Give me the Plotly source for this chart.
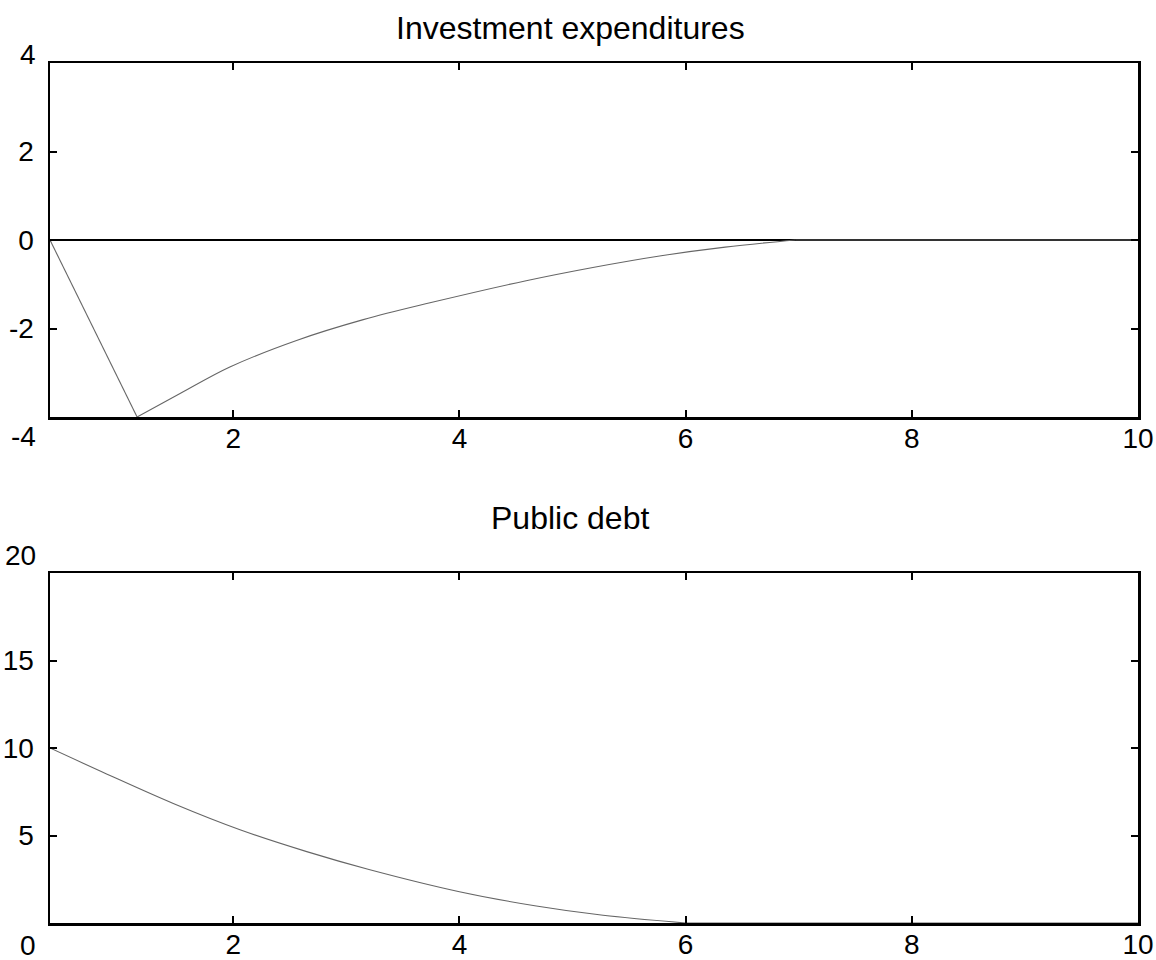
import plotly.graph_objects as go
from plotly.subplots import make_subplots

# Investment expenditures (top panel)
inv_x = [0.38, 1.15, 1.53, 1.97, 2.56, 3.15, 3.74, 4.59, 5.18, 5.77, 6.35, 6.97, 10.0]
inv_y = [0.0, -4.0, -3.47, -2.87, -2.27, -1.80, -1.42, -0.92, -0.62, -0.36, -0.16, 0.0, 0.0]

# Public debt (bottom panel)
debt_x = [0.38, 0.88, 1.47, 2.06, 2.65, 3.2, 4.0, 4.68, 5.27, 6.0, 10.0]
debt_y = [10.0, 8.52, 6.83, 5.33, 4.08, 3.06, 1.79, 0.97, 0.44, 0.0, 0.0]

titles = ["Investment expenditures", "Public debt"]
x_ticks = [2, 4, 6, 8, 10]
inv_yticks = [-2, 0, 2]
inv_yticktext = ["-2", "0", "2"]
debt_yticks = [5, 10, 15]

FONT = "Liberation Sans, Arial, Helvetica, sans-serif"
W, H = 1156, 960
L, R, T, B = 50, 18, 63, 37
ph = H - T - B

LINE = dict(color="#666666", width=1.1)

fig = make_subplots(rows=2, cols=1)
# top: straight drop to the minimum, smooth recovery, then flat at zero
i_min = inv_y.index(min(inv_y))
i_end = inv_x.index(6.97)
fig.add_trace(go.Scatter(x=inv_x[:i_min + 1], y=inv_y[:i_min + 1], mode="lines",
                         line=LINE, showlegend=False), row=1, col=1)
fig.add_trace(go.Scatter(x=inv_x[i_min:i_end + 1], y=inv_y[i_min:i_end + 1], mode="lines",
                         line=dict(LINE, shape="spline", smoothing=1.0),
                         showlegend=False), row=1, col=1)
fig.add_trace(go.Scatter(x=inv_x[i_end:], y=inv_y[i_end:], mode="lines",
                         line=LINE, showlegend=False), row=1, col=1)
# bottom
j_end = debt_x.index(6.0)
fig.add_trace(go.Scatter(x=debt_x[:j_end + 1], y=debt_y[:j_end + 1], mode="lines",
                         line=dict(LINE, shape="spline", smoothing=1.0),
                         showlegend=False), row=2, col=1)
fig.add_trace(go.Scatter(x=debt_x[j_end:], y=debt_y[j_end:], mode="lines",
                         line=LINE, showlegend=False), row=2, col=1)

top_dom = [(ph - 354) / ph, 1.0]
bot_dom = [0.0, 350 / ph]

axis_common = dict(showline=True, linecolor="black", linewidth=2.5, mirror="ticks",
                   ticks="inside", ticklen=7, tickwidth=2, tickcolor="black",
                   showgrid=False, automargin=False,
                   tickfont=dict(family=FONT, size=28, color="black"))

fig.update_xaxes(range=[0.38, 10], tickvals=x_ticks, zeroline=False,
                 ticklabelstandoff=-5, **axis_common)
fig.update_yaxes(ticklabelstandoff=8, **axis_common)

fig.update_layout(
    xaxis=dict(domain=[0, 1]),
    xaxis2=dict(domain=[0, 1]),
    yaxis=dict(domain=top_dom, range=[-4, 4], tickvals=inv_yticks, ticktext=inv_yticktext,
               zeroline=True, zerolinecolor="black", zerolinewidth=2.5),
    yaxis2=dict(domain=bot_dom, range=[0, 20], tickvals=debt_yticks, zeroline=False),
)

annos = []
title_x = (570 - L) / (W - L - R)
annos.append(dict(text=titles[0], xref="paper", yref="paper", x=title_x,
                  y=top_dom[1], yshift=35, xanchor="center", yanchor="middle",
                  showarrow=False, font=dict(family=FONT, size=32, color="black")))
annos.append(dict(text=titles[1], xref="paper", yref="paper", x=title_x,
                  y=bot_dom[1], yshift=55, xanchor="center", yanchor="middle",
                  showarrow=False, font=dict(family=FONT, size=32, color="black")))
# corner y labels (offset from the plot corners as in the reference)
corner = [("4", "y domain", 1, 9), ("-4", "y domain", 0, -19),
          ("20", "y2 domain", 1, 18), ("0", "y2 domain", 0, -22)]
for txt, yref, yv, ys in corner:
    xref = "x domain" if yref.startswith("y ") else "x2 domain"
    annos.append(dict(text=txt, xref=xref, yref=yref, x=0, y=yv, xanchor="right",
                      yanchor="middle", xshift=-12, yshift=ys, showarrow=False,
                      font=dict(family=FONT, size=28, color="black")))

fig.update_layout(width=W, height=H, margin=dict(l=L, r=R, t=T, b=B),
                  paper_bgcolor="white", plot_bgcolor="white", annotations=annos,
                  showlegend=False, hovermode=False)

fig.write_html("out.html", config={"displayModeBar": False, "staticPlot": True},
               post_script="document.body.style.margin='0';"
                           "document.documentElement.style.overflow='hidden';")
